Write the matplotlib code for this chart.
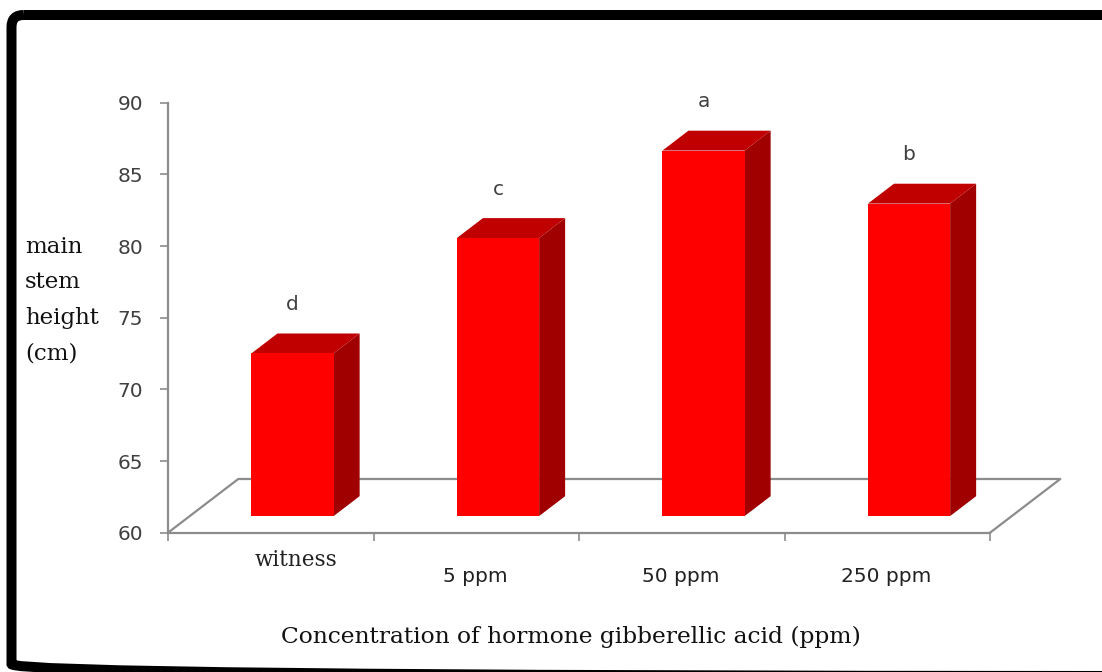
import matplotlib
matplotlib.use("Agg")
import matplotlib.pyplot as plt
from matplotlib.patches import Polygon, FancyBboxPatch

# Main stem height for each gibberellic acid treatment
categories = ["witness", "5 ppm", "50 ppm", "250 ppm"]
heights = [71.35, 79.4, 85.5, 81.8]
groups = ["d", "c", "a", "b"]
y_ticks = [60, 65, 70, 75, 80, 85, 90]

W, H = 1102, 672
fig = plt.figure(figsize=(W / 100, H / 100), dpi=100)
fig.patch.set_facecolor("white")

# Full-figure canvas (pixel units) for the rounded black frame
bg = fig.add_axes([0, 0, 1, 1], zorder=0)
bg.set_xlim(0, W)
bg.set_ylim(H, 0)
bg.axis("off")
bg.add_patch(FancyBboxPatch((11.5, 15), 1140 - 11.5, 676 - 15,
                            boxstyle="round,pad=0,rounding_size=12",
                            fill=False, edgecolor="black", linewidth=7.2,
                            clip_on=False))

# Front plane of the 3-D chart
ax = fig.add_axes([168 / W, 139.3 / H, 822 / W, 430 / H], zorder=1)
ax.patch.set_alpha(0)
ax.set_xlim(0, len(categories))
ax.set_ylim(60, 90)

grey = "#8c8c8c"
for s in ("top", "right"):
    ax.spines[s].set_visible(False)
for s in ("left", "bottom"):
    ax.spines[s].set_color(grey)
    ax.spines[s].set_linewidth(1.6)

ax.set_yticks(y_ticks)
ax.tick_params(axis="y", direction="out", length=5.8, width=1.2, color=grey,
               labelsize=14.5, labelcolor="#404040", pad=12)
ax.set_xticks(range(len(categories) + 1))
ax.set_xticklabels([])
ax.tick_params(axis="x", direction="out", length=5.8, width=1.2, color=grey)

# Depth direction of the floor (one full floor depth, in data units)
DX, DY = 0.342, 3.747
base = 60
f0, f1 = 0.31, 0.68          # front / back depth of the columns
bw = 0.4                      # column width

# Floor outline (left, back and right edges)
n = len(categories)
floor_x = [0, DX, n + DX, n]
floor_y = [base, base + DY, base + DY, base]
ax.plot(floor_x, floor_y, color=grey, lw=1.6, clip_on=False, zorder=1)

front_c, top_c, side_c = "#ff0000", "#c00000", "#a00000"
for i, v in enumerate(heights):
    xl = i + 0.5 - bw / 2 + f0 * DX
    xr = xl + bw
    yb = base + f0 * DY
    yt = v + f0 * DY
    ddx, ddy = (f1 - f0) * DX, (f1 - f0) * DY
    front = Polygon([(xl, yb), (xr, yb), (xr, yt), (xl, yt)], closed=True,
                    facecolor=front_c, edgecolor="none", clip_on=False, zorder=3)
    top = Polygon([(xl, yt), (xr, yt), (xr + ddx, yt + ddy), (xl + ddx, yt + ddy)],
                  closed=True, facecolor=top_c, edgecolor="none", clip_on=False, zorder=3)
    side = Polygon([(xr, yb), (xr + ddx, yb + ddy), (xr + ddx, yt + ddy), (xr, yt)],
                   closed=True, facecolor=side_c, edgecolor="none", clip_on=False, zorder=3)
    for p in (side, top, front):
        ax.add_patch(p)
    ax.annotate(groups[i], xy=((xl + xr) / 2, yt), xytext=(0, 35),
                textcoords="offset points", ha="center", va="center",
                fontsize=14.5, color="#404040", family="DejaVu Sans",
                annotation_clip=False)

# Category labels under the floor
for i, name in enumerate(categories):
    if i == 0:
        ax.annotate(name, xy=(i + 0.5, 0), xycoords=("data", "axes fraction"),
                    xytext=(18, -19.7), textcoords="offset points",
                    ha="center", va="center", fontsize=15.5, color="#222222",
                    family="DejaVu Serif", annotation_clip=False)
    else:
        ax.annotate(name, xy=(i + 0.5, 0), xycoords=("data", "axes fraction"),
                    xytext=(-1, -31.7), textcoords="offset points",
                    ha="center", va="center", fontsize=14.5, color="#222222",
                    family="DejaVu Sans", annotation_clip=False)

fig.text(25 / W, 1 - 300 / H, "main\nstem\nheight\n(cm)", ha="left", va="center",
         fontsize=16.5, family="DejaVu Serif", color="#111111", linespacing=1.8)
fig.text(571 / W, 1 - 637 / H, "Concentration of hormone gibberellic acid (ppm)",
         ha="center", va="center", fontsize=16.8, family="DejaVu Serif", color="#111111")

fig.savefig("out.png", dpi=100)
